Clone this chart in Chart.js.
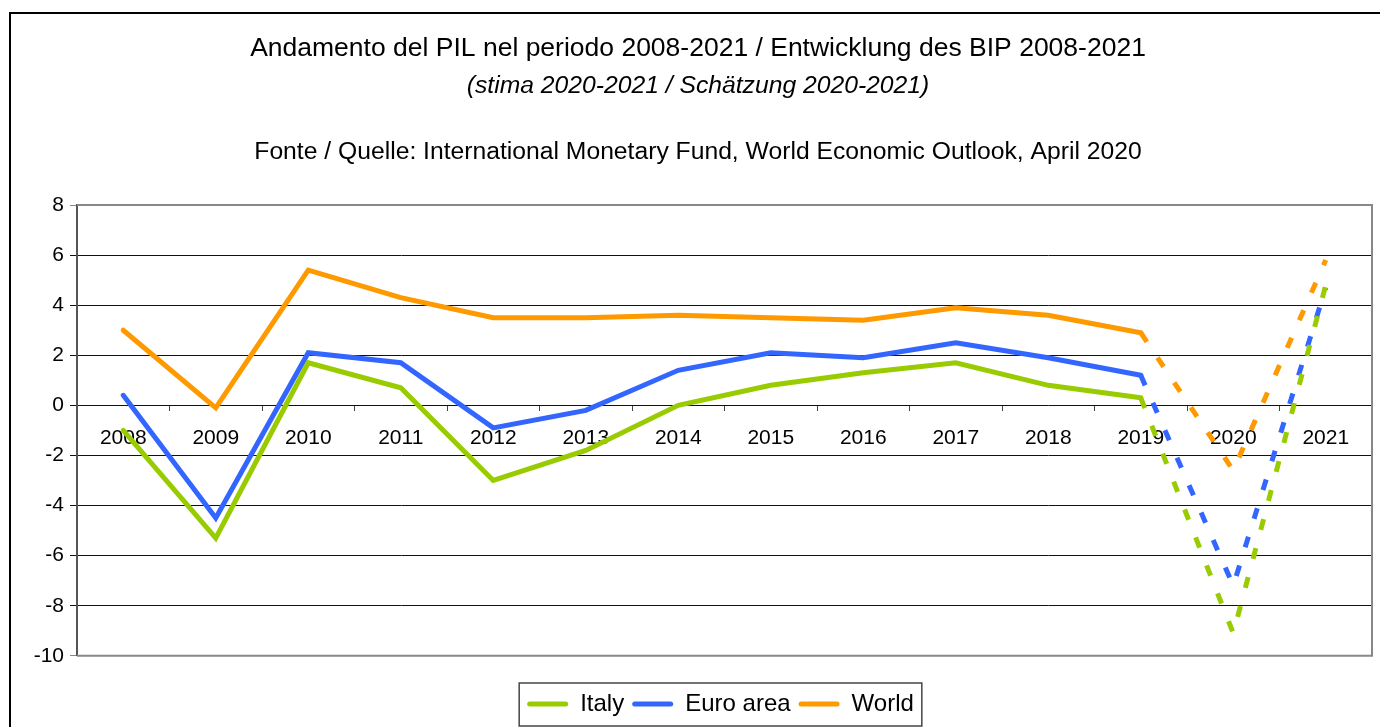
<!DOCTYPE html>
<html>
<head>
<meta charset="utf-8">
<script src="https://cdn.jsdelivr.net/npm/chart.js@4"></script>
<style>
  html, body { margin: 0; padding: 0; background: #fff; }
  #wrap { width: 1380px; height: 727px; position: relative; }
</style>
</head>
<body>
<div id="wrap"><canvas id="gdpChart" width="1380" height="727"></canvas></div>
<script>
var years = ["2008", "2009", "2010", "2011", "2012", "2013", "2014", "2015", "2016", "2017", "2018", "2019", "2020", "2021"];
var italy = [-1.0, -5.3, 1.7, 0.7, -3.0, -1.8, 0.0, 0.8, 1.3, 1.7, 0.8, 0.3, -9.1, 4.8];
var euroArea = [0.4, -4.5, 2.1, 1.7, -0.9, -0.2, 1.4, 2.1, 1.9, 2.5, 1.9, 1.2, -7.2, 4.7];
var world = [3.0, -0.1, 5.4, 4.3, 3.5, 3.5, 3.6, 3.5, 3.4, 3.9, 3.6, 2.9, -2.6, 5.8];

var titleLines = [
  { text: "Andamento del PIL nel periodo 2008-2021 / Entwicklung des BIP 2008-2021", y: 49, size: 26.5, italic: false },
  { text: "(stima 2020-2021 / Schätzung 2020-2021)", y: 86, size: 24.7, italic: true },
  { text: "Fonte / Quelle: International Monetary Fund, World Economic Outlook, April 2020", y: 152, size: 24.7, italic: false }
];

var FONT = "'Liberation Sans', Arial, sans-serif";
var firstEstimate = 11; // segments from 2019 on are estimates

function makeDataset(label, data, color) {
  return {
    label: label,
    data: data,
    borderColor: color,
    backgroundColor: color,
    borderWidth: 5,
    borderCapStyle: "round",
    borderJoinStyle: "miter",
    pointRadius: 0,
    pointHoverRadius: 0,
    tension: 0,
    fill: false,
    segment: {
      borderDash: function (ctx) { return ctx.p0DataIndex >= firstEstimate ? [11, 19] : undefined; },
      borderCapStyle: function (ctx) { return ctx.p0DataIndex >= firstEstimate ? "butt" : undefined; }
    }
  };
}

var frame = {
  id: "frame",
  afterLayout: function (chart) {
    // centre the legend under the plot area instead of the whole canvas
    var a = chart.chartArea;
    var shift = (a.left + a.right) / 2 - chart.width / 2;
    chart.legend.left += shift;
    chart.legend.right += shift;
  },
  beforeDraw: function (chart) {
    var c = chart.ctx;
    c.save();
    c.fillStyle = "#fff";
    c.fillRect(0, 0, chart.width, chart.height);
    c.strokeStyle = "#000";
    c.lineWidth = 2;
    c.strokeRect(10, 13, chart.width + 20, chart.height + 20);
    c.fillStyle = "#000";
    c.textAlign = "center";
    c.textBaseline = "middle";
    titleLines.forEach(function (line) {
      c.font = (line.italic ? "italic " : "") + line.size + "px " + FONT;
      c.fillText(line.text, 698, line.y);
    });
    c.restore();
  },
  afterDraw: function (chart) {
    var c = chart.ctx;
    var a = chart.chartArea;
    c.save();
    c.strokeStyle = "#888";
    c.lineWidth = 2;
    c.beginPath();
    c.moveTo(a.left, a.top);
    c.lineTo(a.right, a.top);
    c.lineTo(a.right, a.bottom);
    c.lineTo(a.left, a.bottom);
    c.stroke();
    // legend box
    var boxes = chart.legend.legendHitBoxes;
    if (boxes && boxes.length) {
      var l = boxes[0].left - 8;
      var last = boxes[boxes.length - 1];
      var r = last.left + last.width + 8;
      var t = boxes[0].top - 9;
      var b = boxes[0].top + boxes[0].height + 10;
      c.strokeStyle = "#444";
      c.lineWidth = 1.5;
      c.strokeRect(l, t, r - l, b - t);
    }
    c.restore();
  }
};

new Chart(document.getElementById("gdpChart"), {
  type: "line",
  data: {
    labels: years,
    datasets: [
      makeDataset("Italy", italy, "#99cc00"),
      makeDataset("Euro area", euroArea, "#3366ff"),
      makeDataset("World", world, "#ff9900")
    ]
  },
  options: {
    responsive: false,
    animation: false,
    layout: { padding: { top: 205, right: 8, left: 0, bottom: 1 } },
    plugins: {
      title: { display: false },
      tooltip: { enabled: false },
      legend: {
        position: "bottom",
        title: { display: true, text: " ", font: { size: 1 }, padding: { top: 0, bottom: 27 } },
        labels: {
          font: { family: FONT, size: 24 },
          color: "#000",
          boxWidth: 41,
          boxHeight: 5,
          padding: 8,
          generateLabels: function (chart) {
            return chart.data.datasets.map(function (ds, i) {
              return {
                text: ds.label,
                fillStyle: ds.borderColor,
                strokeStyle: ds.borderColor,
                lineWidth: 0,
                borderRadius: 2.5,
                datasetIndex: i,
                hidden: false,
                fontColor: "#000"
              };
            });
          }
        }
      }
    },
    scales: {
      x: {
        position: { y: 0 },
        offset: true,
        grid: { offset: true, drawOnChartArea: false, drawTicks: true, tickLength: 6, color: "#444" },
        border: { display: false },
        ticks: { font: { family: FONT, size: 21 }, color: "#000", padding: 14, maxRotation: 0, autoSkip: false }
      },
      y: {
        min: -10,
        max: 8,
        afterFit: function (scale) { scale.width = 77; },
        ticks: { stepSize: 2, font: { family: FONT, size: 21 }, color: "#000", padding: 6 },
        grid: {
          color: function (ctx) { return (ctx.tick && (ctx.tick.value === 8 || ctx.tick.value === -10)) ? "#888" : "#111"; },
          lineWidth: 1,
          tickLength: 7
        },
        border: { color: "#555", width: 2 }
      }
    }
  },
  plugins: [frame]
});
</script>
</body>
</html>
